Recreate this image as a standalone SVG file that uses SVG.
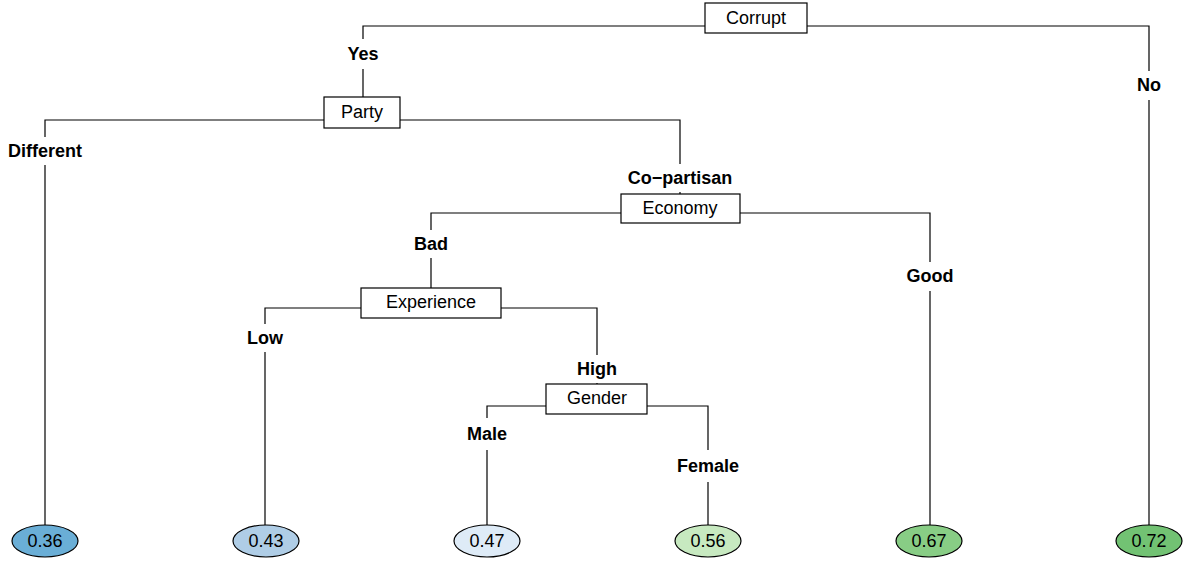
<svg xmlns="http://www.w3.org/2000/svg" width="1183" height="561" viewBox="0 0 1183 561">
<style>
.ln{fill:none;stroke:#000;stroke-width:1.2}
.bx{fill:#fff;stroke:#000;stroke-width:1.2}
.lf{stroke:#000;stroke-width:1.2}
.t{font-family:"Liberation Sans",Arial,sans-serif;font-size:18px;text-anchor:middle;dominant-baseline:central;fill:#000}
.b{font-weight:bold}
</style>
<rect width="1183" height="561" fill="#fff"/>
<g id="connectors">
<path class="ln" d="M705,26 H363 V39"/>
<path class="ln" d="M807,26 H1149 V71"/>
<path class="ln" d="M363,69 V97"/>
<path class="ln" d="M1149,100 V525"/>
<path class="ln" d="M324,120 H45 V137"/>
<path class="ln" d="M400,120 H680 V164"/>
<path class="ln" d="M45,165 V525"/>
<path class="ln" d="M680,192 V194"/>
<path class="ln" d="M621,213 H431 V230"/>
<path class="ln" d="M740,213 H930 V262"/>
<path class="ln" d="M431,258 V288"/>
<path class="ln" d="M930,291 V525"/>
<path class="ln" d="M361,308 H265 V324"/>
<path class="ln" d="M501,308 H597 V355"/>
<path class="ln" d="M265,352 V525"/>
<path class="ln" d="M597,383 V384"/>
<path class="ln" d="M546,406 H487 V418"/>
<path class="ln" d="M647,406 H708 V450"/>
<path class="ln" d="M487,450 V525"/>
<path class="ln" d="M708,482 V525"/>
</g>
<g id="n-corrupt"><rect class="bx" x="705" y="3" width="102" height="30"/><text class="t" x="756" y="18">Corrupt</text></g>
<g id="l-yes"><text class="t b" x="363" y="54">Yes</text></g>
<g id="l-no"><text class="t b" x="1149" y="85">No</text></g>
<g id="n-party"><rect class="bx" x="324" y="97" width="76" height="31"/><text class="t" x="362" y="112">Party</text></g>
<g id="l-different"><text class="t b" x="45" y="151">Different</text></g>
<g id="l-copartisan"><text class="t b" x="680" y="178">Co−partisan</text></g>
<g id="n-economy"><rect class="bx" x="621" y="194" width="119" height="29"/><text class="t" x="680" y="208">Economy</text></g>
<g id="l-bad"><text class="t b" x="431" y="244">Bad</text></g>
<g id="l-good"><text class="t b" x="930" y="276">Good</text></g>
<g id="n-experience"><rect class="bx" x="361" y="288" width="140" height="30"/><text class="t" x="431" y="302">Experience</text></g>
<g id="l-low"><text class="t b" x="265" y="338">Low</text></g>
<g id="l-high"><text class="t b" x="597" y="369">High</text></g>
<g id="n-gender"><rect class="bx" x="546" y="384" width="101" height="30"/><text class="t" x="597" y="398">Gender</text></g>
<g id="l-male"><text class="t b" x="487" y="434">Male</text></g>
<g id="l-female"><text class="t b" x="708" y="466">Female</text></g>
<g id="leaf-036"><ellipse class="lf" cx="45" cy="541" rx="33" ry="16" fill="#6aaed6"/><text class="t" x="45" y="541">0.36</text></g>
<g id="leaf-043"><ellipse class="lf" cx="266" cy="541" rx="33" ry="16" fill="#afcde6"/><text class="t" x="266" y="541">0.43</text></g>
<g id="leaf-047"><ellipse class="lf" cx="487" cy="541" rx="33" ry="16" fill="#deebf7"/><text class="t" x="487" y="541">0.47</text></g>
<g id="leaf-056"><ellipse class="lf" cx="708" cy="541" rx="33" ry="16" fill="#c7e9c0"/><text class="t" x="708" y="541">0.56</text></g>
<g id="leaf-067"><ellipse class="lf" cx="929" cy="541" rx="33" ry="16" fill="#88cd85"/><text class="t" x="929" y="541">0.67</text></g>
<g id="leaf-072"><ellipse class="lf" cx="1149" cy="541" rx="33" ry="16" fill="#72c273"/><text class="t" x="1149" y="541">0.72</text></g>
</svg>
